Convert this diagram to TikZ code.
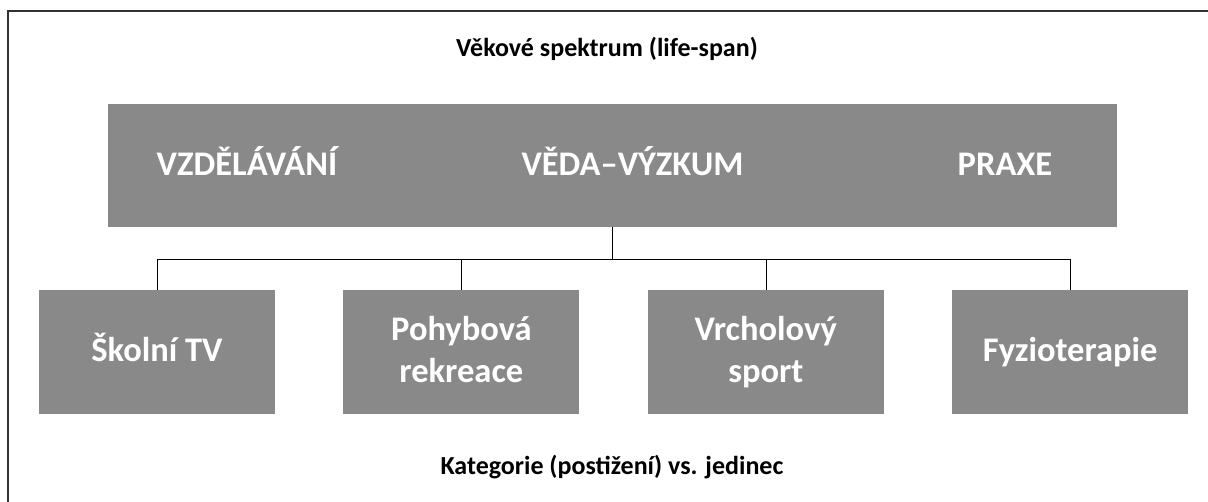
\documentclass[tikz,border=0pt]{standalone}
\usepackage{fontspec}
\setmainfont{Carlito}
\usetikzlibrary{positioning}
\definecolor{boxgray}{RGB}{137,137,137}
\tikzset{
fieldbox/.style={
  fill=boxgray,draw=none,inner sep=0pt,
  minimum width=1009pt,minimum height=123pt},
fieldtext/.style={
  text=white,anchor=base,inner sep=0pt,
  font=\bfseries\fontsize{34.5}{40}\selectfont},
branchbox/.style={
  fill=boxgray,draw=none,text=white,align=center,inner sep=0pt,
  minimum width=236pt,minimum height=124pt,
  font=\bfseries\fontsize{34.5}{42}\selectfont},
oneline/.style={text height=27pt,text depth=7pt},
twoline/.style={text depth=5pt},
caption/.style={
  anchor=base,inner sep=0pt,
  font=\bfseries\fontsize{26}{30}\selectfont}
}

\begin{document}
\begin{tikzpicture}[x=1pt,y=-1pt]
\useasboundingbox (0,0) rectangle (1208,502);
\draw[line width=1.2pt,black!80] (8,503) -- (8,11) -- (1209,11);

\node[caption](Span) at (607,57){Věkové spektrum (life-span)};

\node[fieldbox](Field) at (612.5,165.5){};
\node[fieldtext](Vzdel) at (247,176){VZDĚLÁVÁNÍ};
\node[fieldtext](Veda) at (632.5,176){VĚDA–VÝZKUM};
\node[fieldtext](Praxe) at (1005,176){PRAXE};

\node[branchbox,oneline](Skol) at (157,352){Školní TV};
\node[branchbox,twoline,right=68pt of Skol](Pohyb){Pohybová\\rekreace};
\node[branchbox,twoline,right=68pt of Pohyb](Vrchol){Vrcholový\\sport};
\node[branchbox,oneline,right=68pt of Vrchol](Fyzio){Fyzioterapie};

\coordinate[below=32pt of Field.south](Fork);
\draw (Field.south) -- (Fork);
\draw (Skol.north) |- (Fork) -| (Fyzio.north);
\draw (Pohyb.north) -- (Pohyb.north |- Fork);
\draw (Vrchol.north) -- (Vrchol.north |- Fork);

\node[caption](Kateg) at (612,475){Kategorie (postižení) vs. jedinec};
\end{tikzpicture}
\end{document}
